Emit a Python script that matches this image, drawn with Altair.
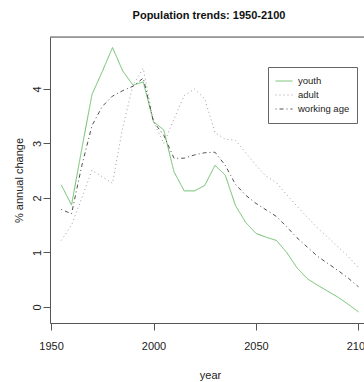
import altair as alt
import pandas as pd

years = [1955, 1960, 1965, 1970, 1975, 1980, 1985, 1990, 1995, 2000,
         2005, 2010, 2015, 2020, 2025, 2030, 2035, 2040, 2045, 2050,
         2055, 2060, 2065, 2070, 2075, 2080, 2085, 2090, 2095, 2100]

youth = [2.24, 1.87, 2.90, 3.90, 4.32, 4.76, 4.33, 4.07, 4.13, 3.40,
         3.25, 2.48, 2.13, 2.13, 2.23, 2.60, 2.42, 1.86, 1.55, 1.35,
         1.28, 1.22, 1.00, 0.72, 0.52, 0.40, 0.29, 0.18, 0.05, -0.09]

adult = [1.22, 1.50, 2.00, 2.51, 2.39, 2.27, 3.30, 4.07, 4.38, 3.40,
         3.00, 3.45, 3.88, 4.00, 3.82, 3.20, 3.08, 3.06, 2.83, 2.60,
         2.40, 2.28, 2.06, 1.85, 1.65, 1.45, 1.28, 1.10, 0.93, 0.72]

working_age = [1.79, 1.71, 2.59, 3.33, 3.68, 3.87, 3.97, 4.05, 4.20, 3.40,
               3.15, 2.73, 2.73, 2.79, 2.83, 2.84, 2.60, 2.25, 2.05, 1.90,
               1.78, 1.66, 1.47, 1.27, 1.10, 0.93, 0.80, 0.67, 0.53, 0.37]

series_names = ["youth", "adult", "working age"]
x_ticks = [1950, 2000, 2050, 2100]
y_ticks = [0, 1, 2, 3, 4]

rows = []
for name, vals in zip(series_names, [youth, adult, working_age]):
    for yr, v in zip(years, vals):
        rows.append({"year": yr, "value": v, "group": name})
df = pd.DataFrame(rows)

FONT = "Liberation Sans, Arial, sans-serif"
AX = "#555555"
TXT = "#222222"

legend = alt.Legend(
    title=None, orient="none", legendX=218, legendY=30,
    symbolType="stroke", symbolSize=289, symbolStrokeWidth=1,
    labelFont=FONT, labelFontSize=9.5, labelColor=TXT, labelOffset=5,
    padding=7, strokeColor="#666666", fillColor="white",
    rowPadding=0, clipHeight=14, cornerRadius=0,
)

lines = alt.Chart(df).mark_line(strokeWidth=1, clip=True).encode(
    x=alt.X("year:Q",
            scale=alt.Scale(domain=[1949.5, 2102.7], nice=False, zero=False),
            axis=alt.Axis(values=x_ticks, title="year", grid=False, format="d",
                          tickSize=7, labelPadding=10, labelFlush=False,
                          labelFont=FONT, labelFontSize=11, labelColor=TXT,
                          titleFont=FONT, titleFontSize=11, titleFontWeight="normal",
                          titleColor=TXT, titleX=160, titleY=55,
                          titleBaseline="alphabetic", titleAlign="center",
                          domainColor=AX, tickColor=AX)),
    y=alt.Y("value:Q",
            scale=alt.Scale(domain=[-0.294, 4.954], nice=False, zero=False),
            axis=alt.Axis(values=y_ticks, title="% annual change", grid=False,
                          tickSize=7, labelPadding=3, labelAngle=270,
                          labelAlign="center", labelBaseline="alphabetic",
                          labelFont=FONT, labelFontSize=11, labelColor=TXT,
                          titleFont=FONT, titleFontSize=11, titleFontWeight="normal",
                          titleColor=TXT, titleAngle=270, titleX=-28, titleY=143,
                          titleAlign="center", titleBaseline="alphabetic",
                          domainColor=AX, tickColor=AX)),
    color=alt.Color("group:N",
                    scale=alt.Scale(domain=series_names,
                                    range=["#6cbf6c", "#a0a0a0", "#505050"]),
                    legend=legend),
    strokeDash=alt.StrokeDash("group:N",
                              scale=alt.Scale(domain=series_names,
                                              range=[[1, 0], [1, 3], [1, 3, 4, 3]]),
                              legend=legend),
    order="year:Q",
)

top_border = alt.Chart(pd.DataFrame({"a": [0]})).mark_rule(
    color=AX, strokeWidth=1
).encode(x=alt.value(0), x2=alt.value(314), y=alt.value(0))

chart = alt.layer(lines, top_border).properties(
    width=314, height=286,
    autosize=alt.AutoSizeParams(type="none"),
    padding={"left": 50, "top": 37, "right": 0, "bottom": 59},
    title=alt.TitleParams(
        text="Population trends: 1950-2100", font=FONT, fontSize=11,
        fontWeight="bold", color="#111111", anchor="middle",
        baseline="alphabetic", offset=7, dx=2,
    ),
).configure_view(stroke=None).configure(background="white")

chart.save("out.html", embed_options={"renderer": "svg", "actions": False})
